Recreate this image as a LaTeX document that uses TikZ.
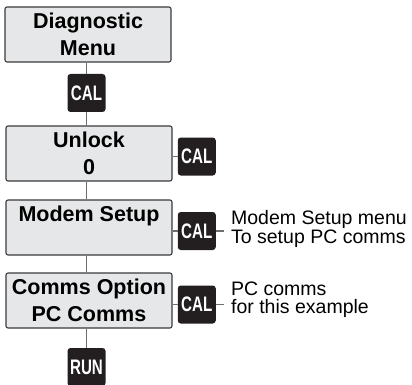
\documentclass[tikz,border=0pt]{standalone}
\usepackage{fontspec}
\setmainfont{Liberation Sans}
\usepackage{graphicx}
\usetikzlibrary{positioning}
\definecolor{boxfill}{HTML}{E6E7E8}
\definecolor{boxline}{HTML}{3A3A3C}
\definecolor{keyfill}{HTML}{231F20}
\definecolor{wire}{HTML}{6D6E71}
\newcommand{\keylabel}[1]{\scalebox{0.72}[1]{#1}} % narrow key caption
\tikzset{
menubox/.style={draw=boxline, fill=boxfill, line width=1.1pt, rounded corners=2pt, minimum width=166pt, minimum height=55pt, align=center, font=\bfseries\fontsize{21.5}{27}\selectfont, inner sep=0pt}, % the menu screens
keybox/.style={fill=keyfill, text=white, rounded corners=3pt, minimum size=38pt, inner sep=0pt, font=\bfseries\fontsize{21}{21}\selectfont}, % the CAL and RUN keys
note/.style={anchor=west, align=left, inner sep=0pt, font=\fontsize{19.5}{18.5}\selectfont}, % text beside a key
wire/.style={draw=wire, line width=1.4pt}, % the joining lines
}

\begin{document}
\begin{tikzpicture}[x=1pt, y=-1pt]
    \useasboundingbox (0,0) rectangle (412,385);
    \node[menubox] (diag) at (88,34.5) {Diagnostic\\Menu};
    \node[menubox] (unlock) at (89,153.5) {Unlock\\0};
    \node[menubox] (modem) at (89,227.5) {Modem Setup\\\mbox{}};
    \node[menubox] (comms) at (89,300.5) {Comms Option\\PC Comms};
    \node[keybox] (cal1) at (86.5,93) {\keylabel{CAL}};
    \node[keybox, right=5pt of unlock, yshift=-3pt] (cal2) {\keylabel{CAL}};
    \node[keybox, right=5pt of modem, yshift=-3.5pt] (cal3) {\keylabel{CAL}};
    \node[keybox, right=5pt of comms, yshift=-4pt] (cal4) {\keylabel{CAL}};
    \node[keybox] (run) at (86.5,367) {\keylabel{RUN}};
    \node[note, right=15pt of cal3, yshift=2pt] (note3) {Modem Setup menu\\To setup PC comms};
    \node[note, right=15pt of cal4, yshift=5pt] (note4) {PC comms\\for this example};
    \draw[wire] (cal1) -- (cal1 |- diag.south)
    (cal1) -- (cal1 |- unlock.north)
    (cal1 |- unlock.south) -- (cal1 |- modem.north)
    (cal1 |- modem.south) -- (cal1 |- comms.north)
    (run) -- (run |- comms.south)
    (cal2.west) -- (cal2.west -| unlock.east)
    (cal3.west) -- (cal3.west -| modem.east)
    (cal4.west) -- (cal4.west -| comms.east)
    (cal3.east) -- ++(8,0)
    (cal4.east) -- ++(8,0);
  \end{tikzpicture}
\end{document}
